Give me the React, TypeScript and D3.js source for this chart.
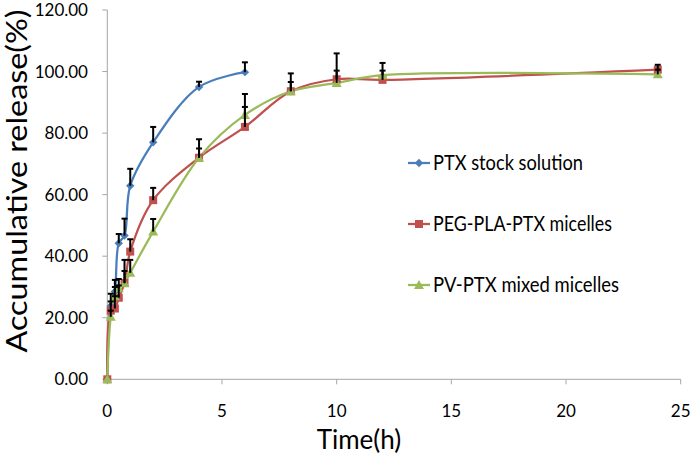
import React from "react";
import * as d3 from "d3";

const times = [0, 0.15, 0.33, 0.5, 0.75, 1, 2, 4, 6, 8, 10, 12, 24];
const stockValues = [0, 23.8, 28.5, 44.2, 46.7, 62.9, 77.0, 95.0, 99.8];
const stockErrors = [0, 4.0, 3.8, 3.0, 5.5, 5.5, 5.0, 1.7, 3.2];
const pegValues = [0, 22.3, 23.0, 26.5, 31.3, 41.5, 58.2, 72.0, 82.0, 93.6, 97.5, 97.3, 100.6];
const pegErrors = [0, 3.0, 4.0, 4.0, 7.5, 4.0, 4.0, 6.0, 6.5, 5.8, 8.4, 3.0, 1.6];
const pvValues = [0, 20.3, 27.0, 29.6, 31.2, 34.6, 48.0, 72.0, 85.9, 93.6, 96.3, 98.8, 99.1];
const pvErrors = [0, 2.0, 3.0, 3.0, 4.0, 4.2, 4.1, 3.0, 6.8, 3.0, 4.0, 4.0, 1.5];
const seriesNames = ["PTX stock solution", "PEG-PLA-PTX micelles", "PV-PTX mixed micelles"];
const seriesColors = ["#4a7ebb", "#c0504d", "#9bbb59"];
const legendLengths = [150, 179, 186];
const xTicks = [0, 5, 10, 15, 20, 25];
const yTicks = [0, 20, 40, 60, 80, 100, 120];
const xTitle = "Time(h)";
const yTitle = "Accumulative release(%)";

const FONT = "Lato, 'Open Sans', sans-serif";

type Pt = { t: number; v: number; e: number };

function build(vals: number[], errs: number[]): Pt[] {
  return vals.map((v, i) => ({ t: times[i], v, e: errs[i] }));
}

export default function App() {
  const W = 690, H = 456;
  const x = d3.scaleLinear().domain([0, 25]).range([107.3, 680.7]);
  const y = d3.scaleLinear().domain([0, 120]).range([379.3, 10]);
  const series = [
    build(stockValues, stockErrors),
    build(pegValues, pegErrors),
    build(pvValues, pvErrors),
  ];
  const line = d3
    .line<Pt>()
    .x((d) => x(d.t))
    .y((d) => y(d.v))
    .curve(d3.curveCatmullRom.alpha(0.5));
  const axisColor = "#a6a6a6";

  const marker = (si: number, cx: number, cy: number, key: string) => {
    const c = seriesColors[si];
    if (si === 0) {
      const r = 4.2;
      return (
        <path key={key} d={`M${cx},${cy - r}L${cx + r},${cy}L${cx},${cy + r}L${cx - r},${cy}Z`} fill={c} />
      );
    }
    if (si === 1) {
      const s = 8;
      return <rect key={key} x={cx - s / 2} y={cy - s / 2} width={s} height={s} fill={c} />;
    }
    const r = 5;
    return (
      <path key={key} d={`M${cx},${cy - r}L${cx + r},${cy + r * 0.8}L${cx - r},${cy + r * 0.8}Z`} fill={c} />
    );
  };

  return (
    <svg
      width={W}
      height={H}
      style={{ position: "absolute", left: 0, top: 0, background: "#fff" }}
      fontFamily={FONT}
    >
      <rect x={0} y={0} width={W} height={H} fill="#fff" />
      {/* axes */}
      <line x1={x(0)} x2={x(0)} y1={y(120)} y2={y(0)} stroke={axisColor} strokeWidth={1} />
      <line x1={x(0)} x2={x(25)} y1={y(0)} y2={y(0)} stroke={axisColor} strokeWidth={1} />
      {yTicks.map((t) => (
        <g key={"yt" + t}>
          <line x1={x(0) - 5} x2={x(0)} y1={y(t)} y2={y(t)} stroke={axisColor} />
          <text x={88} y={y(t)} dy="0.35em" textAnchor="end" fontSize={17} fill="#000">
            {t.toFixed(2)}
          </text>
        </g>
      ))}
      {xTicks.map((t) => (
        <g key={"xt" + t}>
          <line x1={x(t)} x2={x(t)} y1={y(0)} y2={y(0) + 5} stroke={axisColor} />
          <text x={x(t)} y={411} dy="0.35em" textAnchor="middle" fontSize={17} fill="#000">
            {t}
          </text>
        </g>
      ))}
      <text x={359} y={449} textAnchor="middle" fontSize={26} fill="#000">
        {xTitle}
      </text>
      <text
        transform={`translate(27,181) rotate(-90)`}
        textAnchor="middle"
        fontSize={28}
        textLength={343}
        lengthAdjust="spacingAndGlyphs"
        fill="#000"
      >
        {yTitle}
      </text>
      {/* series */}
      {series.map((pts, si) => (
        <path key={"l" + si} d={line(pts) || ""} fill="none" stroke={seriesColors[si]} strokeWidth={2.25} />
      ))}
      {series.map((pts, si) => (
        <g key={"m" + si}>{pts.map((p, i) => marker(si, x(p.t), y(p.v), `m${si}-${i}`))}</g>
      ))}
      {series.map((pts, si) => (
        <g key={"e" + si}>
          {pts
            .filter((p) => p.e > 0)
            .map((p, i) => (
              <g key={i}>
                <line x1={x(p.t)} x2={x(p.t)} y1={y(p.v)} y2={y(p.v + p.e)} stroke="#000" strokeWidth={2} />
                <line x1={x(p.t) - 3} x2={x(p.t) + 3} y1={y(p.v + p.e)} y2={y(p.v + p.e)} stroke="#000" strokeWidth={2} />
              </g>
            ))}
        </g>
      ))}
      {/* legend */}
      {seriesNames.map((n, i) => {
        const ly = 163 + i * 61;
        return (
          <g key={"lg" + i}>
            <line x1={408} x2={430} y1={ly} y2={ly} stroke={seriesColors[i]} strokeWidth={2.25} />
            {marker(i, 419, ly, "lm" + i)}
            <text
              x={433}
              y={ly}
              dy="0.35em"
              fontSize={21}
              textLength={legendLengths[i]}
              lengthAdjust="spacingAndGlyphs"
              fill="#000"
            >
              {n}
            </text>
          </g>
        );
      })}
    </svg>
  );
}
